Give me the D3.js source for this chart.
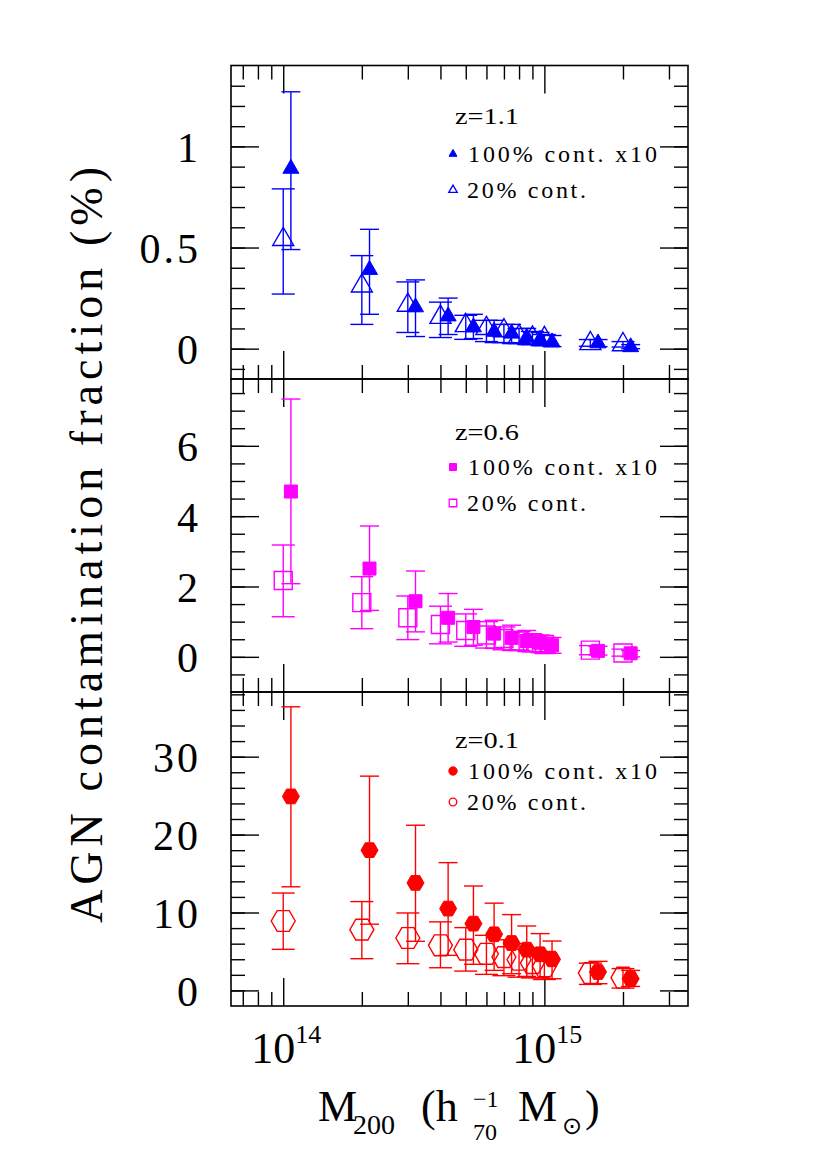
<!DOCTYPE html>
<html>
<head>
<meta charset="utf-8">
<script src="https://cdn.jsdelivr.net/npm/d3@7"></script>
<style>
  body { margin: 0; background: #fff; }
  text { font-family: "Liberation Serif", serif; fill: #000; }
</style>
</head>
<body>
<div id="wrapper"></div>
<script>
// mass bins (open symbols); filled symbols are shifted right a little
const massBins = [1e14, 2e14, 3e14, 4e14, 5e14, 6e14, 7e14, 8e14, 9e14, 1e15, 1.5e15, 2e15];
const fullShift = 1.07;

// z = 1.1
const fullZ11   = [0.89, 0.39, 0.205, 0.16, 0.106, 0.084, 0.075, 0.055, 0.045, 0.032, 0.027, 0.008];
const fullZ11Hi = [1.27, 0.59, 0.34, 0.25, 0.17, 0.14, 0.12, 0.10, 0.08, 0.065, 0.045, 0.02];
const fullZ11Lo = [0.49, 0.17, 0.06, 0.07, 0.05, 0.03, 0.025, 0.02, 0.015, 0.01, 0.01, 0.0];
const partZ11   = [0.54, 0.31, 0.215, 0.155, 0.114, 0.10, 0.089, 0.06, 0.053, 0.05, 0.025, 0.02];
const partZ11Hi = [0.79, 0.46, 0.33, 0.23, 0.165, 0.14, 0.12, 0.10, 0.085, 0.07, 0.045, 0.035];
const partZ11Lo = [0.27, 0.12, 0.08, 0.055, 0.046, 0.035, 0.03, 0.025, 0.02, 0.015, 0.012, 0.008];

// z = 0.6
const fullZ06   = [4.70, 2.51, 1.58, 1.11, 0.85, 0.66, 0.54, 0.45, 0.40, 0.33, 0.17, 0.10];
const fullZ06Hi = [7.33, 3.72, 2.44, 1.80, 1.35, 1.04, 0.90, 0.75, 0.62, 0.55, 0.30, 0.18];
const fullZ06Lo = [2.08, 1.32, 0.71, 0.42, 0.33, 0.24, 0.18, 0.15, 0.12, 0.10, 0.05, 0.0];
const partZ06   = [2.17, 1.54, 1.11, 0.92, 0.75, 0.62, 0.52, 0.45, 0.40, 0.35, 0.19, 0.11];
const partZ06Hi = [3.18, 2.28, 1.73, 1.44, 1.22, 1.00, 0.85, 0.72, 0.62, 0.55, 0.32, 0.22];
const partZ06Lo = [1.14, 0.80, 0.49, 0.37, 0.30, 0.25, 0.20, 0.18, 0.15, 0.12, 0.06, 0.02];

// z = 0.1
const fullZ01   = [24.9, 18.0, 13.8, 10.5, 8.57, 7.2, 6.08, 5.23, 4.63, 3.99, 2.36, 1.5];
const fullZ01Hi = [36.4, 27.5, 21.2, 16.4, 13.4, 11.2, 9.73, 8.27, 7.29, 6.34, 3.73, 2.57];
const fullZ01Lo = [13.3, 8.5, 6.3, 4.5, 3.35, 2.57, 2.14, 1.8, 1.63, 1.5, 0.86, 0.51];
const partZ01   = [8.91, 7.8, 6.73, 5.79, 5.23, 4.7, 4.28, 3.94, 3.51, 3.09, 2.23, 1.63];
const partZ01Hi = [12.5, 11.4, 9.94, 8.8, 8.06, 7.07, 6.5, 6.0, 5.5, 5.0, 3.5, 2.8];
const partZ01Lo = [5.27, 4.07, 3.43, 2.91, 2.48, 2.06, 1.89, 1.7, 1.6, 1.4, 0.77, 0.3];

const xMajor = [1e14, 1e15];
const xMinor = [7e13, 8e13, 9e13, 2e14, 3e14, 4e14, 5e14, 6e14, 7e14, 8e14, 9e14, 2e15, 3e15];

const width = 830, height = 1155;
const left = 231, right = 688;
const panelEdges = [65.5, 379, 692, 1006];

const svg = d3.select("#wrapper")
  .append("svg")
  .attr("width", width)
  .attr("height", height);

const x = d3.scaleLog()
  .domain([Math.pow(10, 13.8), Math.pow(10, 15.55)])
  .range([left, right]);

const hexPath = r => {
  const h = r * Math.sqrt(3) / 2;
  return `M${r},0L${r / 2},${-h}L${-r / 2},${-h}L${-r},0L${-r / 2},${h}L${r / 2},${h}Z`;
};
const triPath = s => d3.symbol(d3.symbolTriangle, s * s * Math.sqrt(3) / 4)();
const sqPath = s => d3.symbol(d3.symbolSquare, s * s)();

const panels = [
  {
    label: "z=1.1", color: "#0000ff", domain: [-0.15, 1.4],
    major: [0, 0.5, 1], minor: d3.range(-1, 14).map(d => d / 10),
    full: fullZ11, fullHi: fullZ11Hi, fullLo: fullZ11Lo,
    part: partZ11, partHi: partZ11Hi, partLo: partZ11Lo,
    fullMark: triPath(16), partMark: triPath(21),
    legFull: triPath(8), legPart: triPath(8.5),
    leg: [124, 154, 162, 190, 198]
  },
  {
    label: "z=0.6", color: "#ff00ff", domain: [-1, 7.9],
    major: [0, 2, 4, 6], minor: d3.range(-1, 16).map(d => d / 2),
    full: fullZ06, fullHi: fullZ06Hi, fullLo: fullZ06Lo,
    part: partZ06, partHi: partZ06Hi, partLo: partZ06Lo,
    fullMark: sqPath(13), partMark: sqPath(18),
    legFull: sqPath(7), legPart: sqPath(7.5),
    leg: [440, 467, 475, 503, 511]
  },
  {
    label: "z=0.1", color: "#ff0000", domain: [-2, 38.3],
    major: [0, 10, 20, 30], minor: d3.range(0, 20).map(d => d * 2),
    full: fullZ01, fullHi: fullZ01Hi, fullLo: fullZ01Lo,
    part: partZ01, partHi: partZ01Hi, partLo: partZ01Lo,
    fullMark: hexPath(8.5), partMark: hexPath(12),
    legFull: d3.symbol(d3.symbolCircle, 55)(), legPart: d3.symbol(d3.symbolCircle, 45)(),
    leg: [748, 771, 779, 802, 810]
  }
];

panels.forEach((p, i) => {
  const top = panelEdges[i], bottom = panelEdges[i + 1];
  const y = d3.scaleLinear().domain(p.domain).range([bottom, top]);
  const g = svg.append("g");

  // ticks, all pointing inward
  const addAxis = (axis, tx, ty) => {
    const a = g.append("g")
      .attr("transform", `translate(${tx},${ty})`)
      .call(axis);
    a.select(".domain").remove();
    a.selectAll("line").attr("stroke", "#000").attr("stroke-width", 1.4);
    return a;
  };

  const yLab = addAxis(d3.axisLeft(y).tickValues(p.major).tickSizeInner(-28).tickSizeOuter(0)
    .tickPadding(30).tickFormat(d => String(d)), left, 0);
  yLab.selectAll("text")
    .style("font-family", "Liberation Serif, serif")
    .style("font-size", "42px")
    .style("letter-spacing", "3px")
    .attr("dy", "0.36em");
  addAxis(d3.axisLeft(y).tickValues(p.minor).tickSize(-14).tickFormat(""), left, 0);
  addAxis(d3.axisRight(y).tickValues(p.major).tickSize(-28).tickFormat(""), right, 0);
  addAxis(d3.axisRight(y).tickValues(p.minor).tickSize(-14).tickFormat(""), right, 0);
  addAxis(d3.axisBottom(x).tickValues(xMajor).tickSize(-28).tickFormat(""), 0, bottom);
  addAxis(d3.axisBottom(x).tickValues(xMinor).tickSize(-14).tickFormat(""), 0, bottom);
  addAxis(d3.axisTop(x).tickValues(xMajor).tickSize(-28).tickFormat(""), 0, top);
  addAxis(d3.axisTop(x).tickValues(xMinor).tickSize(-14).tickFormat(""), 0, top);

  g.append("rect")
    .attr("x", left).attr("y", top)
    .attr("width", right - left).attr("height", bottom - top)
    .attr("fill", "none").attr("stroke", "#000").attr("stroke-width", 1.6);

  const series = [
    {vals: p.part, hi: p.partHi, lo: p.partLo, shift: 1, cap: 11.5, mark: p.partMark, filled: false},
    {vals: p.full, hi: p.fullHi, lo: p.fullLo, shift: fullShift, cap: 9.5, mark: p.fullMark, filled: true}
  ];

  series.forEach(s => {
    const rows = massBins.map((m, k) => ({m: m * s.shift, v: s.vals[k], hi: s.hi[k], lo: s.lo[k]}));
    const eb = g.append("g")
      .attr("stroke", p.color)
      .attr("stroke-width", 1.4)
      .attr("fill", "none");
    eb.selectAll("line.bar").data(rows).enter().append("line")
      .attr("class", "bar")
      .attr("x1", d => x(d.m)).attr("x2", d => x(d.m))
      .attr("y1", d => y(d.lo)).attr("y2", d => y(d.hi));
    eb.selectAll("line.capHi").data(rows).enter().append("line")
      .attr("class", "capHi")
      .attr("x1", d => x(d.m) - s.cap).attr("x2", d => x(d.m) + s.cap)
      .attr("y1", d => y(d.hi)).attr("y2", d => y(d.hi));
    eb.selectAll("line.capLo").data(rows).enter().append("line")
      .attr("class", "capLo")
      .attr("x1", d => x(d.m) - s.cap).attr("x2", d => x(d.m) + s.cap)
      .attr("y1", d => y(d.lo)).attr("y2", d => y(d.lo));
    g.selectAll(null).data(rows).enter().append("path")
      .attr("d", s.mark)
      .attr("transform", d => `translate(${x(d.m)},${y(d.v)})`)
      .attr("fill", s.filled ? p.color : "none")
      .attr("stroke", p.color)
      .attr("stroke-width", s.filled ? 1 : 1.4);
  });

  // legend
  g.append("text")
    .attr("x", 455).attr("y", p.leg[0])
    .attr("textLength", 64).attr("lengthAdjust", "spacingAndGlyphs")
    .style("font-size", "24px")
    .text(p.label);
  g.append("path").attr("d", p.legFull)
    .attr("transform", `translate(453,${p.leg[1]})`)
    .attr("fill", p.color).attr("stroke", p.color).attr("stroke-width", 1);
  g.append("text")
    .attr("x", 468).attr("y", p.leg[2])
    .attr("textLength", 189).attr("lengthAdjust", "spacing")
    .style("font-size", "24px")
    .text("100% cont. x10");
  g.append("path").attr("d", p.legPart)
    .attr("transform", `translate(453,${p.leg[3]})`)
    .attr("fill", "none").attr("stroke", p.color).attr("stroke-width", 1.3);
  g.append("text")
    .attr("x", 467).attr("y", p.leg[4])
    .attr("textLength", 119).attr("lengthAdjust", "spacing")
    .style("font-size", "24px")
    .text("20% cont.");
});

// x tick labels
const xLab = svg.selectAll("text.xlab")
  .data(xMajor)
  .enter()
  .append("text")
  .attr("class", "xlab")
  .attr("x", d => x(d) + 3)
  .attr("y", 1063)
  .attr("text-anchor", "middle")
  .style("font-size", "44px");
xLab.append("tspan").text("10");
xLab.append("tspan")
  .attr("dy", -20)
  .style("font-size", "26px")
  .text(d => Math.round(Math.log10(d)));

// x axis title
const xt = svg.append("text").style("font-size", "44px");
xt.append("tspan").attr("x", 318).attr("y", 1121).text("M");
xt.append("tspan").attr("x", 353).attr("y", 1134).style("font-size", "28px").text("200");
xt.append("tspan").attr("x", 421).attr("y", 1121).text("(h");
svg.append("text").attr("x", 473).attr("y", 1107).style("font-size", "24px").text("\u22121");
svg.append("text").attr("x", 473).attr("y", 1140).style("font-size", "24px").text("70");
const xt2 = svg.append("text").style("font-size", "44px");
xt2.append("tspan").attr("x", 518).attr("y", 1121).text("M");
xt2.append("tspan").attr("x", 562).attr("y", 1134)
  .style("font-size", "24px").style("font-family", "DejaVu Sans, sans-serif").text("\u2299");
xt2.append("tspan").attr("x", 585).attr("y", 1121).text(")");

// y axis title
svg.append("text")
  .attr("transform", "translate(102,545) rotate(-90)")
  .attr("text-anchor", "middle")
  .attr("textLength", 756)
  .attr("lengthAdjust", "spacing")
  .style("font-size", "46px")
  .text("AGN contamination fraction (%)");
</script>
</body>
</html>
